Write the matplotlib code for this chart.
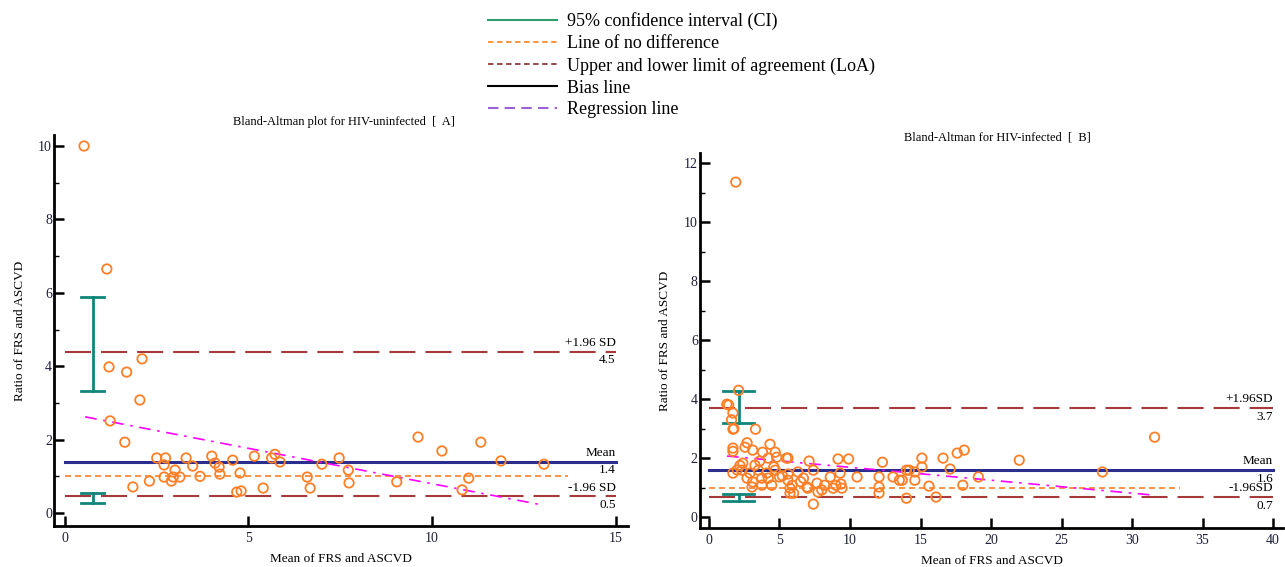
import matplotlib
matplotlib.use("Agg")
import matplotlib.pyplot as plt
from matplotlib.lines import Line2D
from matplotlib.ticker import MultipleLocator

plt.rcParams["font.family"] = ["Liberation Serif", "DejaVu Serif"]

# ---- panel A: HIV-uninfected ----
a_mean = [0.52, 1.14, 1.2, 2.1, 1.68, 2.04, 1.23, 1.63, 1.85, 2.3, 2.5, 2.74,
          2.7, 2.7, 2.9, 3.0, 2.95, 3.13, 3.3, 3.48, 3.68, 4.0, 4.09, 4.2,
          4.22, 4.57, 4.77, 4.68, 4.8, 5.16, 5.4, 5.72, 5.63, 5.86, 6.6, 6.68,
          7.0, 7.47, 7.72, 7.74, 9.04, 9.62, 10.27, 11.0, 10.82, 11.33, 11.88,
          13.05]
a_ratio = [10.0, 6.65, 3.98, 4.2, 3.84, 3.08, 2.51, 1.93, 0.71, 0.87, 1.5, 1.5,
           1.31, 0.98, 0.87, 1.17, 0.98, 0.98, 1.5, 1.28, 1.0, 1.55, 1.36, 1.25,
           1.06, 1.44, 1.09, 0.57, 0.6, 1.55, 0.68, 1.6, 1.5, 1.39, 0.98, 0.68,
           1.33, 1.5, 1.17, 0.82, 0.85, 2.07, 1.69, 0.95, 0.63, 1.93, 1.42,
           1.33]
a_bias = 1.4
a_upper = 4.4
a_lower = 0.45
a_ci_upper = (0.75, 3.32, 5.88)
a_ci_lower = (0.75, 0.27, 0.55)
a_reg_x = [0.55, 13.0]
a_reg_y = [2.62, 0.22]
a_labels = ["+1.96 SD", "4.5", "Mean", "1.4", "-1.96 SD", "0.5"]

# ---- panel B: HIV-infected ----
b_mean = [1.9, 2.1, 1.27, 1.7, 1.6, 1.7, 3.3, 1.7, 1.7, 2.7, 2.55, 3.1, 4.33,
          3.8, 4.7, 4.8, 5.6, 4.2, 2.4, 3.26, 1.7, 2.33, 2.9, 3.5, 4.1, 4.7,
          3.1, 3.05, 3.75, 4.45, 5.0, 5.6, 5.9, 5.6, 6.3, 6.7, 5.75, 3.75, 2.7,
          4.2, 7.1, 7.4, 6.95, 7.66, 7.73, 8.0, 8.2, 8.6, 9.0, 9.43, 9.3, 9.15,
          9.9, 10.5, 7.4, 12.06, 12.3, 12.06, 12.06, 13.05, 13.5, 14.2, 14.0,
          15.1, 15.1, 14.0, 14.6, 14.6, 13.7, 16.6, 17.1, 15.6, 16.1, 17.6,
          18.1, 18.0, 19.1, 22.0, 27.9, 31.6, 5.5, 5.75, 6.0, 7.0, 8.8, 9.36,
          1.4, 1.77, 2.0, 2.2, 3.6, 4.6, 5.2, 6.5]
b_ratio = [11.36, 4.3, 3.83, 3.53, 3.3, 2.98, 2.98, 2.34, 2.23, 2.52, 2.37,
           2.27, 2.47, 2.2, 2.2, 2.03, 2.0, 2.0, 1.83, 1.76, 1.49, 1.59, 1.49,
           1.59, 1.49, 1.59, 1.19, 1.02, 1.08, 1.08, 1.36, 1.25, 1.08, 1.46,
           1.53, 1.32, 0.98, 1.32, 1.32, 1.32, 1.9, 1.59, 1.02, 1.15, 0.85,
           0.92, 1.08, 1.36, 1.08, 0.98, 1.49, 1.97, 1.97, 1.36, 0.44, 1.36,
           1.86, 1.02, 0.81, 1.36, 1.25, 1.59, 0.64, 2.0, 1.7, 1.59, 1.53,
           1.25, 1.25, 2.0, 1.63, 1.05, 0.68, 2.17, 2.27, 1.08, 1.36, 1.93,
           1.53, 2.71, 2.0, 0.81, 0.81, 0.98, 0.98, 1.12, 3.8, 3.0, 1.6, 1.75,
           1.9, 1.7, 1.4, 1.2]
b_bias = 1.59
b_upper = 3.69
b_lower = 0.68
b_ci_upper = (2.1, 3.19, 4.27)
b_ci_lower = (2.1, 0.54, 0.78)
b_reg_x = [1.28, 31.4]
b_reg_y = [2.07, 0.75]
b_labels = ["+1.96SD", "3.7", "Mean", "1.6", "-1.96SD", "0.7"]

ORANGE = "#ff7f27"
LOA = "#a63a3a"
BLUE = "#2b2d8f"
TEAL = "#12857a"
MAGENTA = "#ff00ff"


def draw_panel(ax, xs, ys, bias, upper, lower, ci_up, ci_lo, reg_x, reg_y,
               labels, xlim, ylim, line_end, nodiff_end, cap, xstep, ystep):
    ax.set_xlim(*xlim)
    ax.set_ylim(*ylim)
    ax.plot([0, line_end], [upper, upper], color=LOA, lw=1.5,
            ls=(0, (12.5, 4.8)))
    ax.plot([0, line_end], [lower, lower], color=LOA, lw=1.5,
            ls=(0, (12.5, 4.8)))
    ax.plot([0, nodiff_end], [1.0, 1.0], color=ORANGE, lw=1.2,
            ls=(0, (3.6, 2.4)))
    ax.plot([0, line_end], [bias, bias], color=BLUE, lw=2.2)
    ax.plot(reg_x, reg_y, color=MAGENTA, lw=1.2, ls=(0, (7, 4, 1.5, 4)))
    for cx, lo, hi in (ci_up, ci_lo):
        ax.plot([cx, cx], [lo, hi], color=TEAL, lw=2.0)
        ax.plot([cx - cap, cx + cap], [lo, lo], color=TEAL, lw=2.0)
        ax.plot([cx - cap, cx + cap], [hi, hi], color=TEAL, lw=2.0)
    ax.scatter(xs, ys, s=46, facecolors="none", edgecolors=ORANGE,
               linewidths=1.3, zorder=5)

    for y, above, below in ((upper, labels[0], labels[1]),
                            (bias, labels[2], labels[3]),
                            (lower, labels[4], labels[5])):
        ax.annotate(above, (line_end, y), xytext=(0, 2),
                    textcoords="offset points", ha="right", va="bottom",
                    fontsize=9.5)
        ax.annotate(below, (line_end, y), xytext=(0, -2),
                    textcoords="offset points", ha="right", va="top",
                    fontsize=9.5)

    for side in ("top", "right"):
        ax.spines[side].set_visible(False)
    for side in ("left", "bottom"):
        ax.spines[side].set_linewidth(2.0)
    ax.xaxis.set_major_locator(MultipleLocator(xstep))
    ax.yaxis.set_major_locator(MultipleLocator(ystep))
    ax.yaxis.set_minor_locator(MultipleLocator(ystep / 2))
    ax.tick_params(which="major", direction="in", length=7, width=1.8,
                   labelsize=10, colors="black", labelcolor="#1f1f3a")
    ax.tick_params(axis="y", which="major", pad=1.5)
    ax.tick_params(axis="x", which="major", pad=4)
    ax.tick_params(which="minor", direction="in", length=3.5, width=1.0)
    ax.set_xlabel("Mean of FRS and ASCVD", fontsize=9.5, labelpad=6)
    ax.set_ylabel("Ratio of FRS and ASCVD", fontsize=9.5, labelpad=9)


fig = plt.figure(figsize=(12.85, 5.67), dpi=100)
ax_a = fig.add_axes([0.042, 0.0723, 0.4467, 0.6896])
ax_b = fig.add_axes([0.5447, 0.0688, 0.4537, 0.661])

draw_panel(ax_a, a_mean, a_ratio, a_bias, a_upper, a_lower, a_ci_upper,
           a_ci_lower, a_reg_x, a_reg_y, a_labels, (-0.3, 15.34),
           (-0.354, 10.3), 15.0, 13.7, 0.31, 5, 2)
draw_panel(ax_b, b_mean, b_ratio, b_bias, b_upper, b_lower, b_ci_upper,
           b_ci_lower, b_reg_x, b_reg_y, b_labels, (-0.64, 40.7),
           (-0.37, 12.34), 40.0, 33.4, 1.1, 5, 2)

fig.text(0.268, 1 - 122 / 567, "Bland-Altman plot for HIV-uninfected  [  A]",
         ha="center", va="center", fontsize=9)
fig.text(0.776, 1 - 138 / 567, "Bland-Altman for HIV-infected  [  B]",
         ha="center", va="center", fontsize=9)

handles = [
    Line2D([], [], color="#2e9e6b", lw=1.5),
    Line2D([], [], color="#ff8c2b", lw=1.3, ls=(0, (3, 2))),
    Line2D([], [], color="#8b3a3a", lw=1.3, ls=(0, (3, 2))),
    Line2D([], [], color="black", lw=1.5),
    Line2D([], [], color="#9b5fd6", lw=1.5, ls=(0, (5, 3))),
]
names = ["95% confidence interval (CI)", "Line of no difference",
         "Upper and lower limit of agreement (LoA)", "Bias line",
         "Regression line"]
fig.legend(handles, names, loc="upper left",
           bbox_to_anchor=(479 / 1285, 1 - 3 / 567),
           frameon=False, fontsize=13, handlelength=3.8, handletextpad=0.55,
           labelspacing=0.27, borderpad=0.3, borderaxespad=0.2)

fig.savefig("out.png", dpi=100)
